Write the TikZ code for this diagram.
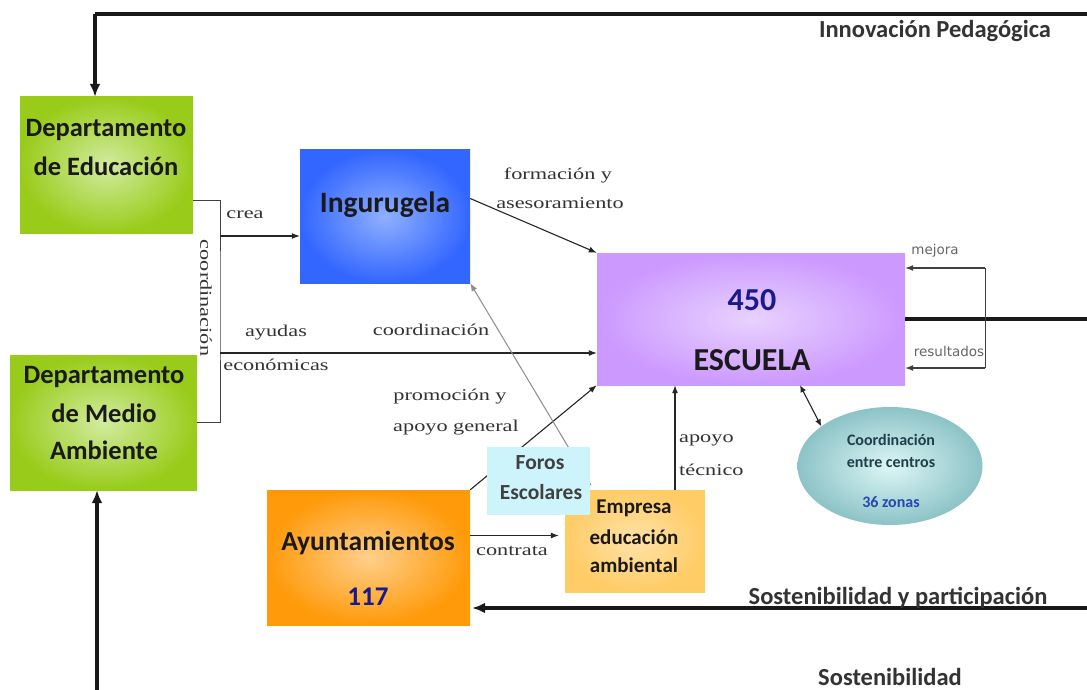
\documentclass[tikz,border=0pt]{standalone}
\usepackage{fontspec}
\setmainfont{Liberation Serif}
\newfontfamily\boxf{Carlito}
\newfontfamily\lblf[FakeStretch=1.35]{Liberation Serif}
\newfontfamily\smf{DejaVu Sans}
\usetikzlibrary{arrows.meta,shapes.geometric,calc}
\definecolor{grnO}{HTML}{99CC1A}
\definecolor{grnI}{HTML}{D2EBA0}
\definecolor{bluO}{HTML}{3366FF}
\definecolor{bluI}{HTML}{8FB0FF}
\definecolor{vioO}{HTML}{CC99FF}
\definecolor{vioI}{HTML}{E8D2FF}
\definecolor{orgO}{HTML}{FF9A0A}
\definecolor{orgI}{HTML}{FFCF8A}
\definecolor{empO}{HTML}{FFCC66}
\definecolor{empI}{HTML}{FFE2A8}
\definecolor{forC}{HTML}{CCF4FA}
\definecolor{tealO}{HTML}{8CC3C6}
\definecolor{tealI}{HTML}{DDF6F6}
\definecolor{lblC}{HTML}{333333}
\definecolor{txtC}{HTML}{1A1A1A}
\definecolor{numC}{HTML}{1A1A8C}
\definecolor{zonC}{HTML}{2A46B0}
\definecolor{ellT}{HTML}{1F3F4A}
\tikzset{
  bt/.style={font=\boxf\bfseries\fontsize{26.5}{30}\selectfont, text=txtC, inner sep=0pt},
  lbl/.style={font=\lblf\fontsize{16.5}{19}\selectfont, text=lblC, inner sep=0pt},
  thinarr/.style={draw=black!85, line width=1.1pt, -{Latex[length=8pt,width=6pt]}},
  bigline/.style={draw=black!90, line width=3.2pt},
  bigarr/.style={bigline, -{Latex[length=13pt,width=11pt]}},
  capt/.style={font=\boxf\bfseries\fontsize{24.5}{27}\selectfont, text=black!80, inner sep=0pt},
  forostxt/.style={bt, font=\boxf\bfseries\fontsize{21.5}{24}\selectfont, text=black!75},
  emptxt/.style={bt, font=\boxf\bfseries\fontsize{21}{24}\selectfont},
  elltxt/.style={bt, font=\boxf\bfseries\fontsize{16}{18}\selectfont, text=ellT}
}
\begin{document}
\begin{tikzpicture}[x=1pt,y=-1pt]
\useasboundingbox (0,0) rectangle (1087,690);
\fill[white] (0,0) rectangle (1087,690);

% boxes
\node[minimum width=173pt, minimum height=136pt, inner sep=0pt, inner color=grnI, outer color=grnO] (dedu) at (106.5,165) {};
\node[minimum width=187pt, minimum height=135pt, inner sep=0pt, inner color=grnI, outer color=grnO] (dma) at (103.5,422.5) {};
\node[minimum width=170pt, minimum height=133pt, inner sep=0pt, inner color=bluI, outer color=bluO] (ing) at (385,216.5) {};
\node[minimum width=308pt, minimum height=132pt, inner sep=0pt, inner color=vioI, outer color=vioO] (esc) at (751,319) {};
\node[minimum width=203pt, minimum height=135pt, inner sep=0pt, inner color=orgI, outer color=orgO] (ayu) at (368.5,557.5) {};
\node[minimum width=140pt, minimum height=102pt, inner sep=0pt, inner color=empI, outer color=empO] (emp) at (635,541) {};
\node[ellipse, minimum width=185pt, minimum height=118pt, inner sep=0pt, inner color=tealI, outer color=tealO] (ell) at (890,466) {};

% box texts
\node[bt] (t1) at (106,130) {Departamento};
\node[bt] (t2) at (106,166) {de Educación};
\node[bt] (t3) at (104,377) {Departamento};
\node[bt] (t4) at (104,413) {de Medio};
\node[bt] (t5) at (104,450) {Ambiente};
\node[bt, font=\boxf\bfseries\fontsize{29.5}{32}\selectfont] (t6) at (385,205) {Ingurugela};
\node[bt, text=numC, font=\boxf\bfseries\fontsize{32}{34}\selectfont] (t7) at (752,300) {450};
\node[bt, font=\boxf\bfseries\fontsize{32}{34}\selectfont] (t8) at (752,360) {ESCUELA};
\node[bt, font=\boxf\bfseries\fontsize{27.5}{30}\selectfont] (t9) at (368,543) {Ayuntamientos};
\node[bt, text=numC, font=\boxf\bfseries\fontsize{27}{30}\selectfont] (t10) at (368,597) {117};
\node[emptxt] (t13) at (634,508) {Empresa};
\node[emptxt] (t14) at (634,537) {educación};
\node[emptxt] (t15) at (634,565) {ambiental};
\node[elltxt] (t16) at (891,440) {Coordinación};
\node[elltxt] (t17) at (891,463) {entre centros};
\node[elltxt, text=zonC] (t18) at (891,502) {36 zonas};

% coordinates
\coordinate (topR) at (1090,14);
\coordinate (topL) at (95,14);
\coordinate (botS) at (97,692);
\coordinate (brk) at (220,300);
\coordinate (creaS) at (220,236);
\coordinate (ayS) at (220,353);
\coordinate (gS) at (591,485);
\coordinate (ct) at ([yshift=22pt]ayu.east);
\coordinate (spR) at (1090,608);
\coordinate (lp1) at (985,268);
\coordinate (lp2) at (985,368);

% connectors
\draw[bigline] (topR) -- (topL);
\draw[bigarr] (topL) -- ([xshift=-11.5pt]dedu.north);
\draw[bigarr] (botS) -- ([xshift=-6.5pt]dma.south);
\draw[draw=black!75, line width=1pt] ([yshift=-35pt]dedu.east) -| (brk) |- (dma.east);
\draw[thinarr] (creaS) -- (creaS -| ing.west);
\draw[thinarr] ([yshift=18pt]ing.east) -- (esc.north west);
\draw[thinarr] (ayS) -- (ayS -| esc.west);
\draw[thinarr] (ayu.north east) -- (esc.south west);
\draw[thinarr] ([xshift=40pt]emp.north) -- ([xshift=40pt]emp.north |- esc.south);
\draw[draw=black!45, line width=1pt, -{Latex[length=8pt,width=6pt]}] (gS) -- (ing.south east);
\draw[thinarr] (ct) -- ($(ct -| emp.west)+(-6,0)$);
\draw[bigarr] (spR) -- ($(spR -| ayu.east)+(2,0)$);
\draw[bigline] (esc.east) -- ++(185,0);
\draw[draw=black!75, line width=1pt] (lp1) -- (lp2);
\draw[thinarr, draw=black!75] (lp1) -- (lp1 -| esc.east);
\draw[thinarr, draw=black!75] (lp2) -- (lp2 -| esc.east);
\draw[draw=black!85, line width=1.1pt, {Latex[length=7pt,width=6pt]}-{Latex[length=7pt,width=6pt]}] ([xshift=49pt]esc.south) -- (ell.150);

% Foros on top of lines
\node[minimum width=103pt, minimum height=68pt, inner sep=0pt, fill=forC] (foros) at (538.5,481) {};
\node[forostxt] (t11) at (540,463) {Foros};
\node[forostxt] (t12) at (541,492) {Escolares};

% labels
\node[lbl] (l1) at (245,215) {crea};
\node[lbl] (l2) at (558,175) {formación y};
\node[lbl] (l3) at (560,203) {asesoramiento};
\node[lbl] (l4) at (276,333) {ayudas};
\node[lbl] (l5) at (276,365) {económicas};
\node[lbl] (l6) at (431,330) {coordinación};
\node[lbl] (l7) at (450,397) {promoción y};
\node[lbl] (l8) at (456,428) {apoyo general};
\node[lbl, anchor=west] (l9) at (679,440) {apoyo};
\node[lbl, anchor=west] (l10) at (679,470) {técnico};
\node[lbl] (l11) at (512,551) {contrata};
\node[lbl, rotate=-90] (l12) at (206,298) {coordinación};
\node[lbl, font=\smf\fontsize{13.5}{15}\selectfont, text=black!60] (l13) at (935,251) {mejora};
\node[lbl, font=\smf\fontsize{13.5}{15}\selectfont, text=black!60] (l14) at (949,351) {resultados};
\node[capt] (c1) at (935,31) {Innovación Pedagógica};
\node[capt] (c2) at (898,598) {Sostenibilidad y participación};
\node[capt] (c3) at (890,677) {Sostenibilidad};
\end{tikzpicture}
\end{document}
